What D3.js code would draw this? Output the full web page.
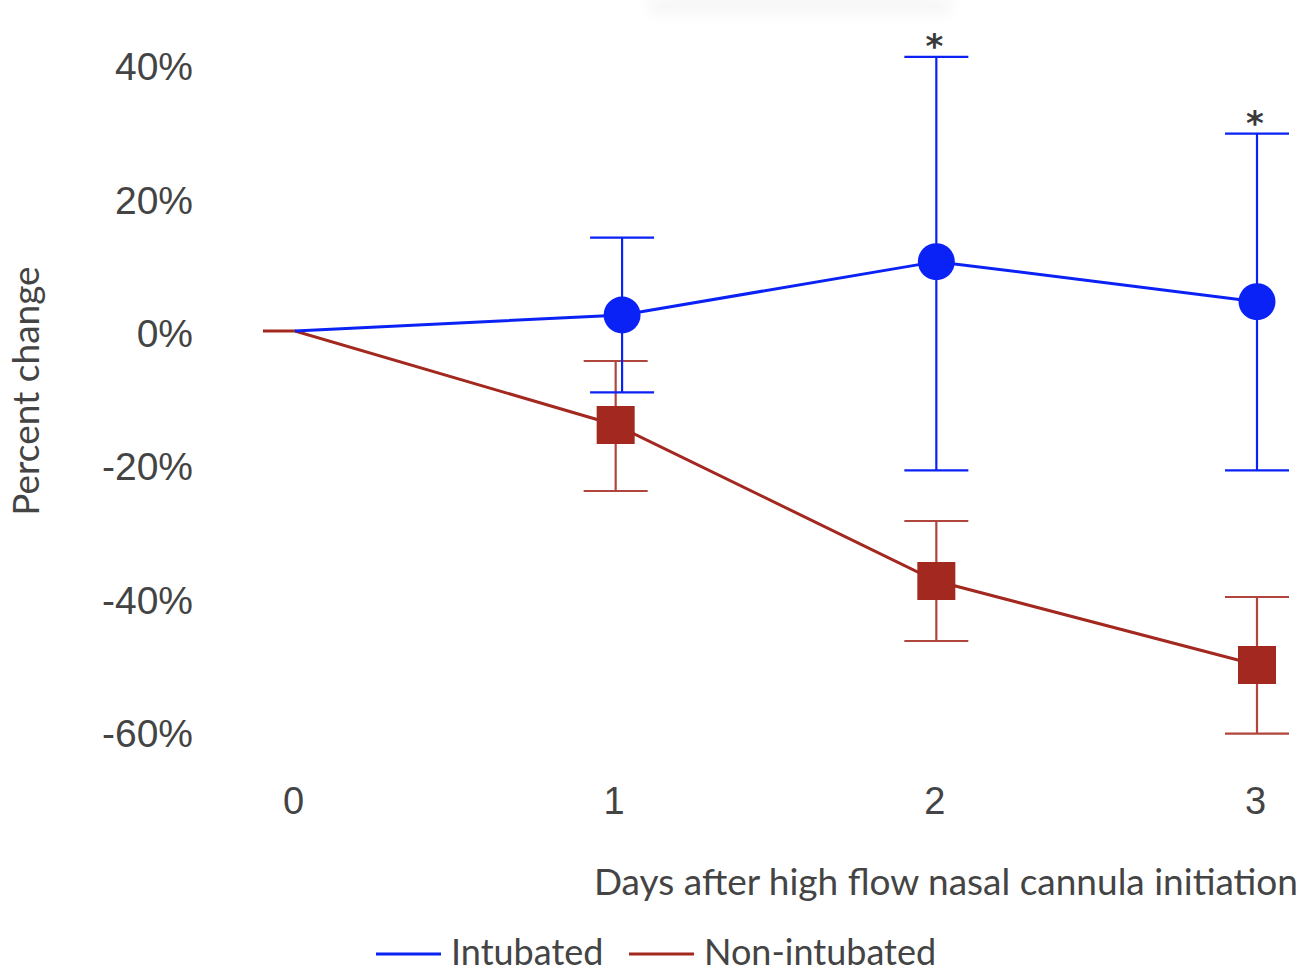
<!DOCTYPE html>
<html>
<head>
<meta charset="utf-8">
<script src="https://cdn.jsdelivr.net/npm/d3@7"></script>
<style>
  html, body { margin: 0; padding: 0; background: #fff; }
  svg { display: block; }
  .tick text { font-family: "Liberation Sans", Arial, sans-serif; fill: #444; }
</style>
</head>
<body>
<svg id="chart" width="1302" height="973"></svg>
<script>
// Percent change after high flow nasal cannula initiation

var days = [0, 1, 2, 3];
var yTicks = [40, 20, 0, -20, -40, -60];

// Intubated (blue); day 1 sits slightly right of the red point in the original
var intubDays = [0, 1.02, 2, 3];
var intubMean = [0, 2.4, 10.4, 4.4];
var intubLow  = [null, -9.2, -20.9, -20.9];
var intubHigh = [null, 14.0, 41.1, 29.6];
var intubStar = [false, false, true, true];

// Non-intubated (red); the line has a short lead-in before day 0
var nonDays = [-0.1, 0, 1, 2, 3];
var nonMean = [0, 0, -14.1, -37.5, -50.1];
var nonLow  = [null, null, -24.0, -46.5, -60.4];
var nonHigh = [null, null, -4.5, -28.5, -39.9];

var seriesNames = ["Intubated", "Non-intubated"];

var BLUE = "#0a22f5", RED = "#a3281f", RED_BAR = "#b0453d", TXT = "#444";
var LABEL_FONT = "Lato, 'Open Sans', sans-serif";

var svg = d3.select("#chart");

var x = d3.scaleLinear().domain([0, 3]).range([295, 1257]);
var y = d3.scaleLinear().domain([-60, 40]).range([731, 64.3]);

// faint smudge at the top of the original image
var defs = svg.append("defs");
defs.append("filter").attr("id", "blur")
  .attr("x", "-20%").attr("y", "-200%").attr("width", "140%").attr("height", "500%")
  .append("feGaussianBlur").attr("stdDeviation", 8);
svg.append("rect")
  .attr("x", 650).attr("y", 0).attr("width", 300).attr("height", 12)
  .attr("fill", "#f2f2f2").attr("filter", "url(#blur)");

///////////////////////////////////////////////////////////////////////////////
// Axes

var yAxis = svg.append("g")
  .attr("transform", "translate(193,3)")
  .call(d3.axisLeft(y).tickValues(yTicks).tickSize(0).tickPadding(0)
    .tickFormat(function (d) { return d + "%"; }));
yAxis.select(".domain").remove();
yAxis.selectAll("text").style("font-size", "39px");

var xAxis = svg.append("g")
  .attr("transform", "translate(-2,787)")
  .call(d3.axisBottom(x).tickValues(days).tickSize(0).tickPadding(0)
    .tickFormat(d3.format("d")));
xAxis.select(".domain").remove();
xAxis.selectAll("text").style("font-size", "38px").attr("dy", "0.71em");

svg.append("text")
  .attr("x", 1298).attr("y", 895)
  .attr("text-anchor", "end")
  .style("font-family", LABEL_FONT)
  .style("font-size", "37px").style("fill", TXT)
  .text("Days after high flow nasal cannula initiation");

svg.append("text")
  .attr("transform", "translate(39,391) rotate(-90)")
  .attr("text-anchor", "middle")
  .style("font-family", LABEL_FONT)
  .style("font-size", "37px").style("fill", TXT)
  .text("Percent change");

///////////////////////////////////////////////////////////////////////////////
// Series

var line = d3.line()
  .x(function (d) { return x(d.day); })
  .y(function (d) { return y(d.mean); });

var toRows = function (ds, means, lows, highs, stars) {
  return ds.map(function (d, i) {
    return { day: d, mean: means[i], low: lows[i], high: highs[i],
             star: stars ? stars[i] : false };
  });
};

var intub = toRows(intubDays, intubMean, intubLow, intubHigh, intubStar);
var non = toRows(nonDays, nonMean, nonLow, nonHigh);

var drawErrors = function (rows, color) {
  var g = svg.append("g").attr("stroke", color).attr("stroke-width", 2.2).attr("fill", "none");
  rows.filter(function (d) { return d.low !== null; }).forEach(function (d) {
    var cx = x(d.day);
    g.append("line").attr("x1", cx).attr("x2", cx).attr("y1", y(d.high)).attr("y2", y(d.low));
    g.append("line").attr("x1", cx - 32).attr("x2", cx + 32).attr("y1", y(d.high)).attr("y2", y(d.high));
    g.append("line").attr("x1", cx - 32).attr("x2", cx + 32).attr("y1", y(d.low)).attr("y2", y(d.low));
  });
};

drawErrors(non, RED_BAR);
drawErrors(intub, BLUE);

svg.append("path").datum(non)
  .attr("d", line).attr("fill", "none")
  .attr("stroke", RED).attr("stroke-width", 3);
svg.append("path").datum(intub.filter(function (d) { return d.day >= 0; }))
  .attr("d", line).attr("fill", "none")
  .attr("stroke", BLUE).attr("stroke-width", 3);

svg.append("g").selectAll("rect")
  .data(non.filter(function (d) { return d.day > 0; }))
  .join("rect")
  .attr("x", function (d) { return x(d.day) - 19; })
  .attr("y", function (d) { return y(d.mean) - 19; })
  .attr("width", 38).attr("height", 38)
  .attr("fill", RED);

svg.append("g").selectAll("circle")
  .data(intub.filter(function (d) { return d.day > 0; }))
  .join("circle")
  .attr("cx", function (d) { return x(d.day); })
  .attr("cy", function (d) { return y(d.mean); })
  .attr("r", 18.5)
  .attr("fill", BLUE);

// significance markers
svg.append("g").selectAll("text")
  .data(intub.filter(function (d) { return d.star; }))
  .join("text")
  .attr("x", function (d) { return x(d.day) - 2; })
  .attr("y", function (d) { return y(d.high) + 1; })
  .attr("text-anchor", "middle")
  .style("font-family", "'DejaVu Sans', sans-serif")
  .style("font-size", "34px").style("font-weight", "bold").style("fill", "#3a3a3a")
  .text("*");

///////////////////////////////////////////////////////////////////////////////
// Legend

var legendX = [376, 629];
var legendColors = [BLUE, RED];
var legend = svg.append("g").selectAll("g")
  .data(seriesNames)
  .join("g")
  .attr("transform", function (d, i) { return "translate(" + legendX[i] + ",954)"; });
legend.append("line")
  .attr("x1", 0).attr("x2", 65).attr("y1", 0).attr("y2", 0)
  .attr("stroke", function (d, i) { return legendColors[i]; })
  .attr("stroke-width", 3.2);
legend.append("text")
  .attr("x", 75).attr("y", 11)
  .style("font-family", LABEL_FONT)
  .style("font-size", "36px").style("fill", TXT)
  .text(function (d) { return d; });
</script>
</body>
</html>
